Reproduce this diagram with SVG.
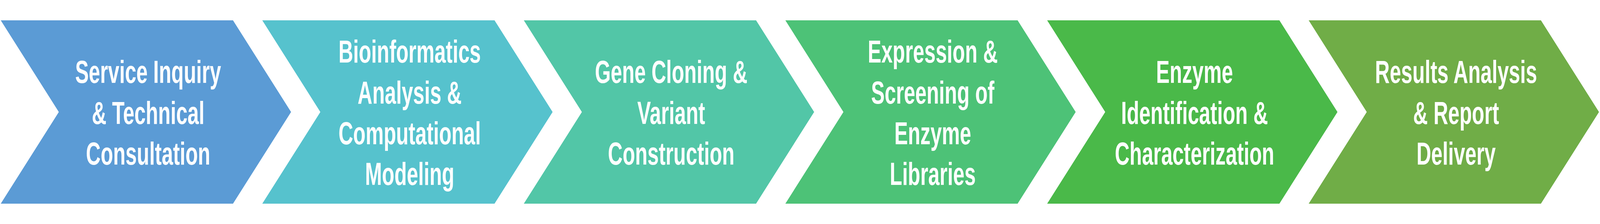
<svg xmlns="http://www.w3.org/2000/svg" width="6448" height="573" viewBox="0 0 6448 573" preserveAspectRatio="none">
<style>
:root{width:100vw;height:100vh;display:block}
.lbl{font-family:"Liberation Sans",Arial,sans-serif;font-weight:bold;font-size:82px;fill:#FFFFFF;text-anchor:middle}
</style>
<defs>
<polygon id="chev" points="0,52 936,52 1170,286.5 936,521 0,521 234,286.5"/>
</defs>
<rect width="6448" height="573" fill="#FFFFFF"/>
<g id="connectors"></g>
<g id="node1">
<use href="#chev" x="3" fill="#5B9BD5"/>
<text class="lbl"><tspan x="597" y="212">Service Inquiry</tspan><tspan x="597" y="317">&amp; Technical</tspan><tspan x="597" y="421">Consultation</tspan></text>
</g>
<g id="node2">
<use href="#chev" x="1057" fill="#56C2CD"/>
<text class="lbl"><tspan x="1651" y="160">Bioinformatics</tspan><tspan x="1651" y="265">Analysis &amp;</tspan><tspan x="1651" y="369">Computational</tspan><tspan x="1651" y="473">Modeling</tspan></text>
</g>
<g id="node3">
<use href="#chev" x="2111" fill="#52C6A7"/>
<text class="lbl"><tspan x="2705" y="212">Gene Cloning &amp;</tspan><tspan x="2705" y="317">Variant</tspan><tspan x="2705" y="421">Construction</tspan></text>
</g>
<g id="node4">
<use href="#chev" x="3165" fill="#4DC277"/>
<text class="lbl"><tspan x="3759" y="160">Expression &amp;</tspan><tspan x="3759" y="265">Screening of</tspan><tspan x="3759" y="369">Enzyme</tspan><tspan x="3759" y="473">Libraries</tspan></text>
</g>
<g id="node5">
<use href="#chev" x="4220" fill="#4AB949"/>
<text class="lbl"><tspan x="4814" y="212">Enzyme</tspan><tspan x="4814" y="317">Identification &amp;</tspan><tspan x="4814" y="421">Characterization</tspan></text>
</g>
<g id="node6">
<use href="#chev" x="5274" fill="#70AD47"/>
<text class="lbl"><tspan x="5868" y="212">Results Analysis</tspan><tspan x="5868" y="317">&amp; Report</tspan><tspan x="5868" y="421">Delivery</tspan></text>
</g>
</svg>
